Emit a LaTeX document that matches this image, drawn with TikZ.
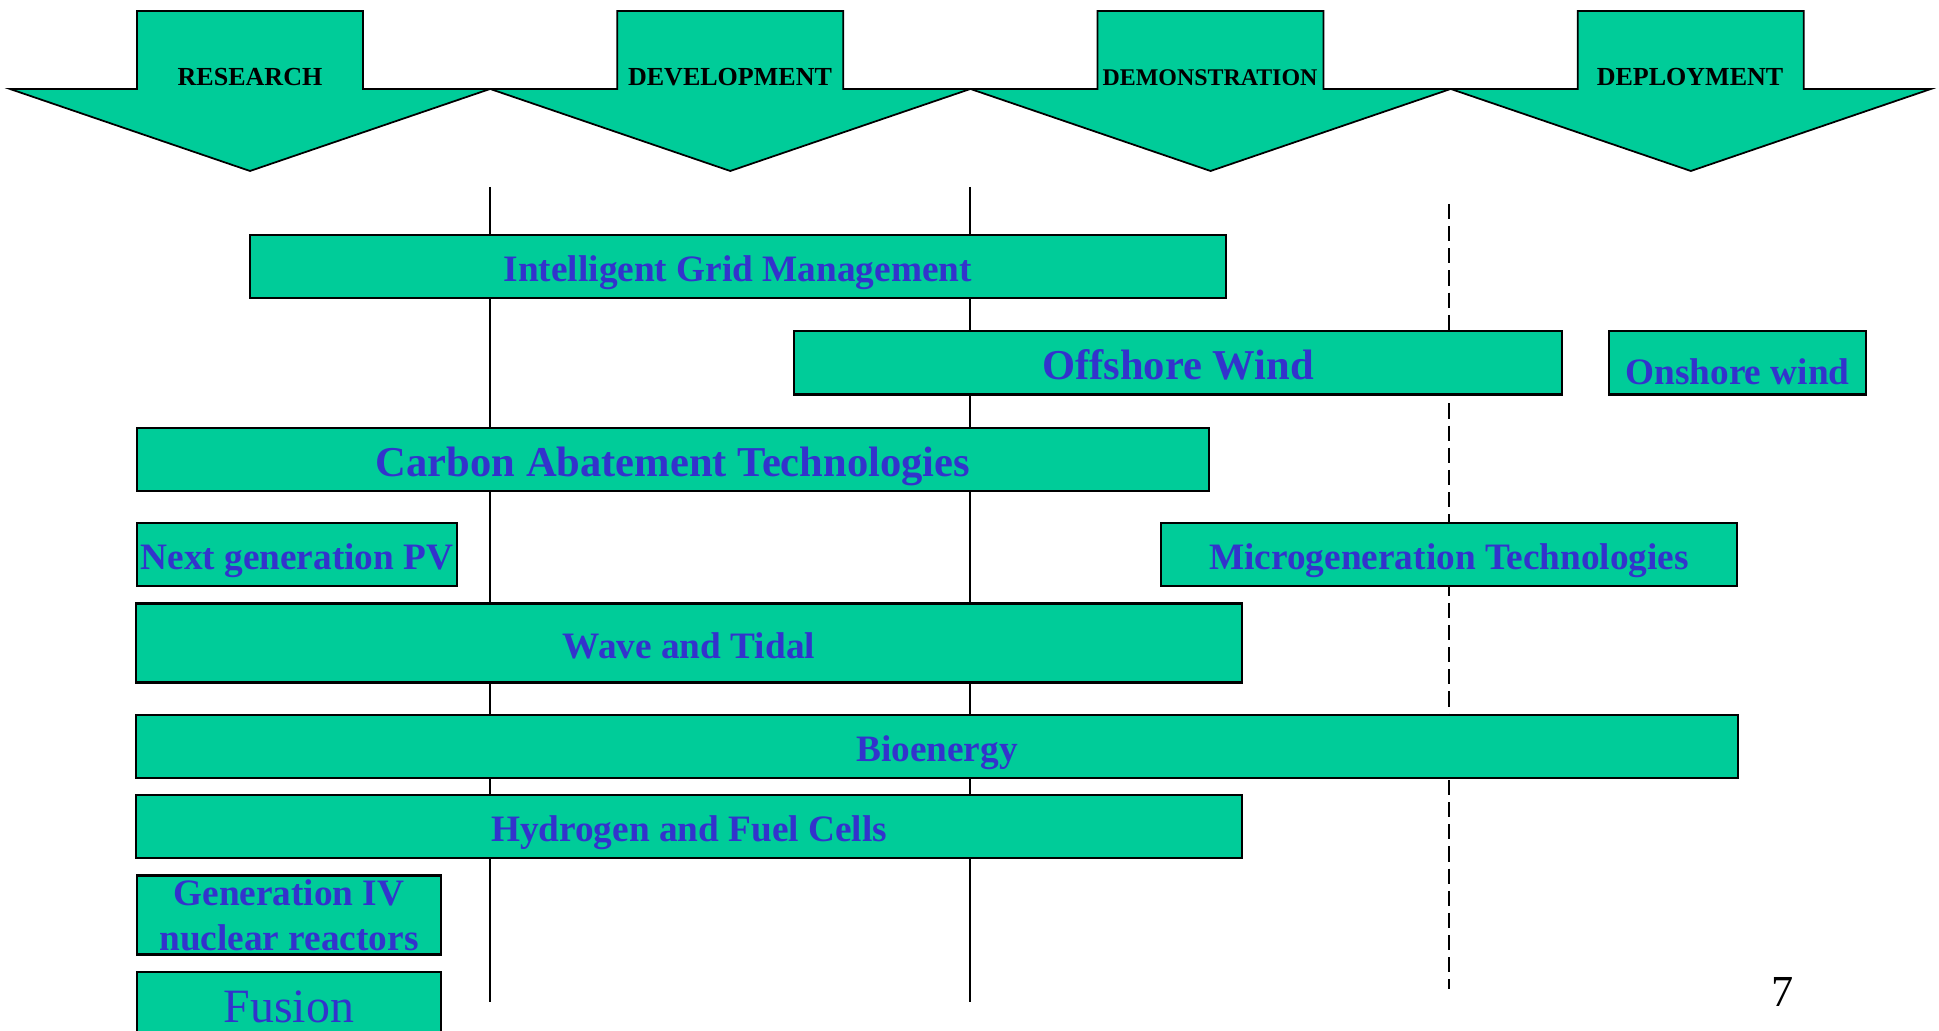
\documentclass[tikz,border=0pt]{standalone}
\usepackage{fontspec}
\setmainfont{Liberation Serif}
\usepackage{xcolor}
\definecolor{stagegreen}{RGB}{0,204,153}
\definecolor{techblue}{RGB}{51,51,204}

\begin{document}
\begin{tikzpicture}[x=0.01cm, y=-0.01cm,
    stage/.style={draw, line width=0.5pt, fill=stagegreen},
    stagelabel/.style={anchor=base, inner sep=0pt, font=\fontsize{7.4}{9}\selectfont\bfseries},
    bar/.style={rectangle, draw, line width=0.6pt, fill=stagegreen, text=techblue, inner sep=0pt, text height=8.6pt, text depth=0pt, align=center, font=\fontsize{10.6}{12.8}\selectfont\bfseries},
    bigbar/.style={bar, text height=9.7pt, font=\fontsize{12.1}{14.5}\selectfont\bfseries},
    divider/.style={line width=0.55pt}
]
\useasboundingbox (0,0) rectangle (1939,1031);

\draw[stage] (10,89) -- (137,89) -- (137,11) -- (363,11) -- (363,89) -- (490,89) -- (250,171) -- cycle;
\draw[stage, xshift=4.8cm] (10,89) -- (137,89) -- (137,11) -- (363,11) -- (363,89) -- (490,89) -- (250,171) -- cycle;
\draw[stage, xshift=9.6cm] (10,89) -- (137,89) -- (137,11) -- (363,11) -- (363,89) -- (490,89) -- (250,171) -- cycle;
\draw[stage, xshift=14.4cm] (10,89) -- (137,89) -- (137,11) -- (363,11) -- (363,89) -- (490,89) -- (250,171) -- cycle;

\node[stagelabel] (res) at (250,85.5) {RESEARCH};
\node[stagelabel] (dev) at (730,85.5) {DEVELOPMENT};
\node[stagelabel, font=\fontsize{6.8}{8}\selectfont\bfseries] (demo) at (1210,85.5) {DEMONSTRATION};
\node[stagelabel] (depl) at (1690,85.5) {DEPLOYMENT};

\draw[divider] (490,187) -- (490,1002);
\draw[divider] (970,187) -- (970,1002);
\draw[divider, dash pattern=on 4.3pt off 2pt] (1449,204) -- (1449,989);

\node[bar, minimum width=9.755cm, minimum height=0.63cm] (grid) at (737.75,266.5) {Intelligent Grid Management};
\node[bigbar, minimum width=7.68cm, minimum height=0.635cm] (offshore) at (1178,362.75) {Offshore Wind};
\node[bar, minimum width=2.57cm, minimum height=0.635cm, text height=12.2pt] (onshore) at (1737.5,362.75) {Onshore wind};
\node[bigbar, minimum width=10.72cm, minimum height=0.63cm] (carbon) at (673,459.5) {Carbon Abatement Technologies};
\node[bar, minimum width=3.205cm, minimum height=0.63cm] (pv) at (297,554.5) {Next generation PV};
\node[bar, minimum width=5.765cm, minimum height=0.63cm] (micro) at (1449,554.5) {Microgeneration Technologies};
\node[bar, minimum width=11.045cm, minimum height=0.79cm] (wave) at (689,643) {Wave and Tidal};
\node[bar, minimum width=16.005cm, minimum height=0.63cm] (bio) at (937,746.5) {Bioenergy};
\node[bar, minimum width=11.045cm, minimum height=0.63cm] (hydrogen) at (689,826.5) {Hydrogen and Fuel Cells};
\node[bar, minimum width=3.045cm, minimum height=0.79cm, text height=20.3pt] (genfour) at (289,915) {Generation IV\\nuclear reactors};
\node[bar, minimum width=3.045cm, minimum height=0.64cm, text height=10.7pt, font=\fontsize{13.6}{16}\selectfont] (fusion) at (289,1004) {Fusion};
\node[font=\fontsize{12.6}{15}\selectfont, inner sep=0pt] (page) at (1783,992) {7};
\end{tikzpicture}
\end{document}
